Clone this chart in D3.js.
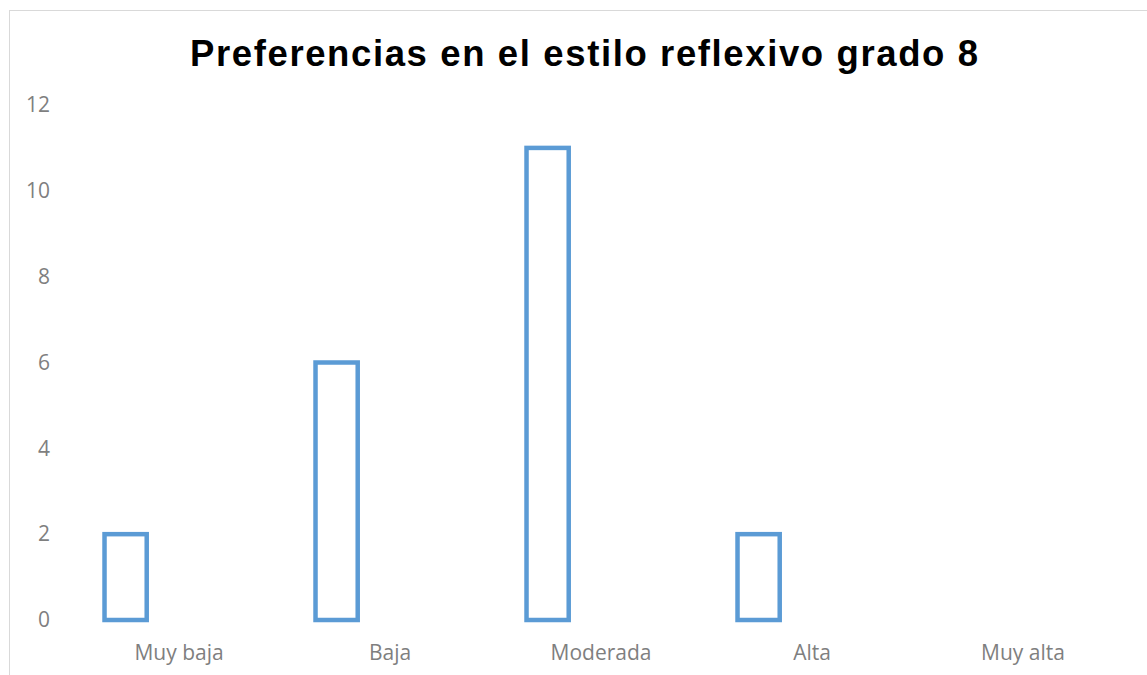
<!DOCTYPE html>
<html><head><meta charset="utf-8">
<script src="https://cdn.jsdelivr.net/npm/d3@7/dist/d3.min.js"></script>
<style>body{margin:0;background:#fff}svg{display:block}</style>
</head><body>
<script>
const title = "Preferencias en el estilo reflexivo grado 8";
const categories = ["Muy baja", "Baja", "Moderada", "Alta", "Muy alta"];
const values = [2, 6, 11, 2, 0];
const yTicks = [0, 2, 4, 6, 8, 10, 12];

const W = 1147, H = 675;
const svg = d3.select("body").append("svg").attr("width", W).attr("height", H);

svg.append("rect").attr("x", 9.5).attr("y", 10.5).attr("width", W + 20).attr("height", H + 20)
  .attr("fill", "#fff").attr("stroke", "#d9d9d9").attr("stroke-width", 1);

svg.append("text").attr("x", 190).attr("y", 66)
  .attr("textLength", 788).attr("lengthAdjust", "spacing")
  .attr("font-family", "Liberation Sans, Arial, sans-serif").attr("font-weight", "bold")
  .attr("font-size", 36.5).attr("fill", "#000").text(title);

const x = d3.scaleBand().domain(categories).range([73.5, 1128.5]);
const y = d3.scaleLinear().domain([0, 12]).range([620, 105]);

const gy = svg.append("g").attr("transform", "translate(50,0)")
  .call(d3.axisLeft(y).tickValues(yTicks).tickSize(0).tickPadding(0));
gy.select(".domain").remove();
gy.selectAll("text").attr("font-family", "Open Sans, sans-serif").attr("font-size", 21)
  .attr("fill", "#7f7f7f");

const gx = svg.append("g").attr("transform", "translate(0,620)")
  .call(d3.axisBottom(x).tickSize(0).tickPadding(25));
gx.select(".domain").remove();
gx.selectAll("text").attr("font-family", "Open Sans, sans-serif").attr("font-size", 21)
  .attr("fill", "#7f7f7f");

const bw = x.bandwidth() * 0.2;
const off = x.bandwidth() * 0.147;
svg.append("g").selectAll("rect").data(categories.map((c, i) => ({c, v: values[i]})).filter(d => d.v > 0))
  .join("rect")
  .attr("x", d => x(d.c) + off)
  .attr("y", d => y(d.v))
  .attr("width", bw)
  .attr("height", d => y(0) - y(d.v))
  .attr("fill", "#fff").attr("stroke", "#5b9bd5").attr("stroke-width", 4.5);
</script>
</body></html>
